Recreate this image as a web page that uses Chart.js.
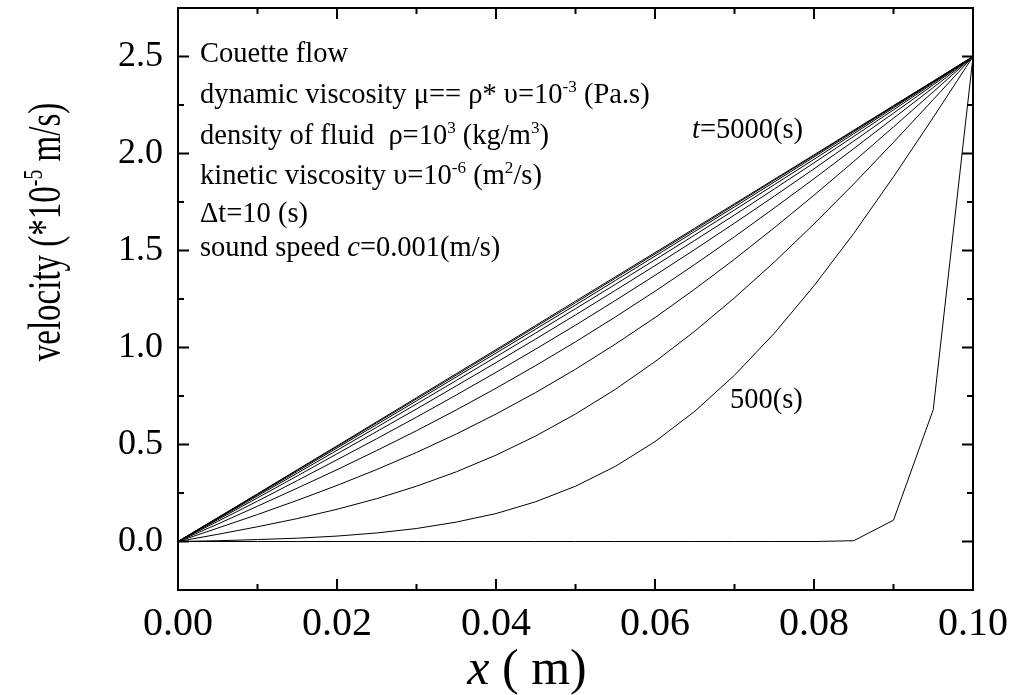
<!DOCTYPE html>
<html lang="en">
  <head>
    <meta charset="UTF-8" />
    <title>Couette flow - velocity profiles</title>
    <script src="https://cdn.jsdelivr.net/npm/chart.js"></script>
    <style>
      html,
      body {
        margin: 0;
        padding: 0;
        background: #fff;
      }
      #couetteChart {
        display: block;
      }
    </style>
  </head>
  <body>
    <canvas id="couetteChart" width="1022" height="695"></canvas>

    <script>
      // grid positions across the channel (m)
      const xPos = [
        0, 0.005, 0.01, 0.015, 0.02, 0.025, 0.03, 0.035, 0.04, 0.045, 0.05,
        0.055, 0.06, 0.065, 0.07, 0.075, 0.08, 0.085, 0.09, 0.095, 0.1,
      ];

      // velocity (*1e-5 m/s) at each time
      const u10 = [0, 0, 0, 0, 0, 0, 0, 0, 0, 0, 0, 0, 0, 0, 0, 0, 0, 0.004, 0.11, 0.68, 2.5];
      const u500 = [0, 0.004, 0.01, 0.017, 0.028, 0.044, 0.067, 0.1, 0.144, 0.205, 0.285, 0.387, 0.515, 0.671, 0.857, 1.073, 1.318, 1.588, 1.88, 2.186, 2.5];
      const u1000 = [0, 0.037, 0.076, 0.118, 0.166, 0.221, 0.285, 0.359, 0.445, 0.544, 0.657, 0.784, 0.927, 1.084, 1.256, 1.44, 1.637, 1.843, 2.058, 2.278, 2.5];
      const u1500 = [0, 0.069, 0.139, 0.212, 0.289, 0.371, 0.459, 0.554, 0.657, 0.768, 0.888, 1.017, 1.154, 1.301, 1.455, 1.617, 1.785, 1.959, 2.137, 2.318, 2.5];
      const u2000 = [0, 0.09, 0.182, 0.275, 0.37, 0.469, 0.571, 0.678, 0.79, 0.907, 1.029, 1.157, 1.29, 1.428, 1.571, 1.719, 1.87, 2.025, 2.182, 2.34, 2.5];
      const u2500 = [0, 0.104, 0.208, 0.314, 0.421, 0.53, 0.641, 0.755, 0.872, 0.992, 1.115, 1.242, 1.372, 1.505, 1.641, 1.78, 1.921, 2.064, 2.208, 2.354, 2.5];
      const u3000 = [0, 0.112, 0.225, 0.338, 0.452, 0.567, 0.683, 0.802, 0.922, 1.044, 1.168, 1.294, 1.422, 1.552, 1.683, 1.817, 1.952, 2.088, 2.225, 2.362, 2.5];
      const u3500 = [0, 0.117, 0.235, 0.352, 0.47, 0.589, 0.709, 0.83, 0.952, 1.075, 1.2, 1.325, 1.452, 1.58, 1.709, 1.839, 1.97, 2.102, 2.235, 2.367, 2.5];
      const u4000 = [0, 0.12, 0.241, 0.361, 0.482, 0.603, 0.725, 0.848, 0.971, 1.095, 1.219, 1.345, 1.471, 1.598, 1.725, 1.853, 1.982, 2.111, 2.241, 2.37, 2.5];
      const u4500 = [0, 0.122, 0.244, 0.367, 0.489, 0.612, 0.735, 0.858, 0.982, 1.107, 1.231, 1.357, 1.482, 1.608, 1.735, 1.862, 1.989, 2.117, 2.244, 2.372, 2.5];
      const u5000 = [0, 0.123, 0.246, 0.37, 0.493, 0.617, 0.741, 0.865, 0.989, 1.114, 1.239, 1.364, 1.489, 1.615, 1.741, 1.867, 1.993, 2.12, 2.247, 2.373, 2.5];

      // axis ticks
      const xTicks = [0, 0.02, 0.04, 0.06, 0.08, 0.1];
      const xMinorTicks = [0.01, 0.03, 0.05, 0.07, 0.09];
      const yTicks = [0, 0.5, 1, 1.5, 2, 2.5];
      const yMinorTicks = [0.25, 0.75, 1.25, 1.75, 2.25];

      const profiles = [u10, u500, u1000, u1500, u2000, u2500, u3000, u3500, u4000, u4500, u5000];

      const SERIF = '"Liberation Serif", "Times New Roman", serif';

      // draws a line of text made of normal / italic / superscript pieces
      function drawRich(ctx, x, y, parts, size) {
        parts.forEach(([txt, kind]) => {
          let fs = size;
          let dy = 0;
          let style = "";
          if (kind === "sup") {
            fs = size * 0.6;
            dy = -size * 0.4;
          }
          if (kind === "it") style = "italic ";
          ctx.font = `${style}${fs}px ${SERIF}`;
          ctx.fillText(txt, x, y + dy);
          x += ctx.measureText(txt).width;
        });
        return x;
      }

      function richWidth(ctx, parts, size) {
        let w = 0;
        parts.forEach(([txt, kind]) => {
          const fs = kind === "sup" ? size * 0.6 : size;
          ctx.font = `${kind === "it" ? "italic " : ""}${fs}px ${SERIF}`;
          w += ctx.measureText(txt).width;
        });
        return w;
      }

      // closed frame with inward ticks on all four sides
      const frameTicks = {
        id: "frameTicks",
        afterDatasetsDraw(chart) {
          const { ctx, chartArea: a, scales } = chart;
          ctx.save();
          ctx.strokeStyle = "#000";
          ctx.lineWidth = 2;
          ctx.beginPath();
          const xMarks = xTicks.map((v) => [v, 11]).concat(xMinorTicks.map((v) => [v, 6]));
          xMarks.forEach(([v, len]) => {
            const px = scales.x.getPixelForValue(v);
            ctx.moveTo(px, a.bottom);
            ctx.lineTo(px, a.bottom - len);
            ctx.moveTo(px, a.top);
            ctx.lineTo(px, a.top + len);
          });
          const yMarks = yTicks.map((v) => [v, 11]).concat(yMinorTicks.map((v) => [v, 6]));
          yMarks.forEach(([v, len]) => {
            const py = scales.y.getPixelForValue(v);
            ctx.moveTo(a.left, py);
            ctx.lineTo(a.left + len, py);
            ctx.moveTo(a.right, py);
            ctx.lineTo(a.right - len, py);
          });
          ctx.stroke();
          ctx.strokeRect(a.left, a.top, a.right - a.left, a.bottom - a.top);
          ctx.restore();
        },
      };

      // axis titles and the notes inside the plot
      const notes = {
        id: "notes",
        afterDraw(chart) {
          const ctx = chart.ctx;
          ctx.save();
          ctx.fillStyle = "#000";
          ctx.textBaseline = "alphabetic";
          ctx.textAlign = "left";

          const fs = 28.5;
          drawRich(ctx, 200, 62, [["Couette flow"]], fs);
          drawRich(ctx, 200, 103, [["dynamic viscosity \u03bc== \u03c1* \u03c5=10"], ["-3", "sup"], [" (Pa.s)"]], fs);
          drawRich(ctx, 200, 144, [["density of fluid  \u03c1=10"], ["3", "sup"], [" (kg/m"], ["3", "sup"], [")"]], fs);
          drawRich(ctx, 200, 184, [["kinetic viscosity \u03c5=10"], ["-6", "sup"], [" (m"], ["2", "sup"], ["/s)"]], fs);
          drawRich(ctx, 200, 222, [["\u0394t=10 (s)"]], fs);
          drawRich(ctx, 200, 256, [["sound speed "], ["c", "it"], ["=0.001(m/s)"]], fs);

          drawRich(ctx, 692, 138, [["t", "it"], ["=5000(s)"]], fs);
          drawRich(ctx, 730, 408, [["500(s)"]], fs);

          // x axis title
          const xt = [["x", "it"], [" ( m)"]];
          const xw = richWidth(ctx, xt, 50);
          drawRich(ctx, 527 - xw / 2, 684, xt, 50);

          // y axis title, rotated; glyphs a little wider across than along
          const yt = [["velocity (*10"], ["-5", "sup"], [" m/s)"]];
          const yw = richWidth(ctx, yt, 33);
          ctx.translate(60, 232);
          ctx.rotate(-Math.PI / 2);
          ctx.scale(1, 1.4);
          drawRich(ctx, -yw / 2, 0, yt, 33);
          ctx.restore();
        },
      };

      const ctx = document.getElementById("couetteChart").getContext("2d");
      new Chart(ctx, {
        type: "line",
        data: {
          datasets: profiles.map((u) => ({
            data: xPos.map((x, i) => ({ x: x, y: u[i] })),
            borderColor: "#000",
            borderWidth: 1,
            pointRadius: 0,
            tension: 0,
            fill: false,
          })),
        },
        options: {
          responsive: false,
          animation: false,
          layout: { padding: { left: 0, right: 49, top: 8, bottom: 0 } },
          plugins: {
            legend: { display: false },
            tooltip: { enabled: false },
          },
          scales: {
            x: {
              type: "linear",
              min: 0,
              max: 0.1,
              grid: { display: false, drawTicks: false },
              border: { display: false },
              afterBuildTicks: (scale) => {
                scale.ticks = xTicks.map((v) => ({ value: v }));
              },
              afterFit: (scale) => {
                scale.height = 105;
                scale.paddingLeft = 0;
                scale.paddingRight = 0;
              },
              ticks: {
                color: "#000",
                padding: 10,
                maxRotation: 0,
                font: { family: SERIF, size: 40 },
                callback: (v) => Number(v).toFixed(2),
              },
            },
            y: {
              type: "linear",
              min: -0.25,
              max: 2.75,
              grid: { display: false, drawTicks: false },
              border: { display: false },
              afterBuildTicks: (scale) => {
                scale.ticks = yTicks.map((v) => ({ value: v }));
              },
              afterFit: (scale) => {
                scale.width = 178;
                scale.paddingTop = 0;
                scale.paddingBottom = 0;
              },
              ticks: {
                color: "#000",
                padding: 15,
                font: { family: SERIF, size: 36 },
                callback: (v) => Number(v).toFixed(1),
              },
            },
          },
        },
        plugins: [frameTicks, notes],
      });
    </script>
  </body>
</html>
